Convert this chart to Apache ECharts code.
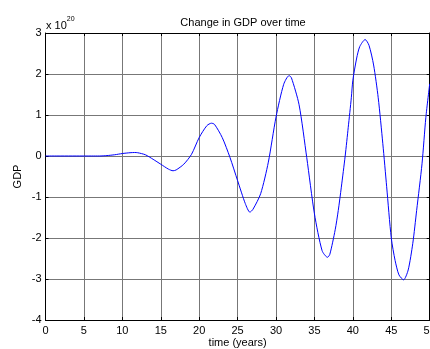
<!DOCTYPE html>
<html>
<head>
<meta charset="utf-8">
<script src="https://cdn.jsdelivr.net/npm/echarts@6/dist/echarts.min.js"></script>
<style>
html,body{margin:0;padding:0;background:#fff;}
#chart{width:430px;height:349px;}
</style>
</head>
<body>
<div id="chart"></div>
<script>
// time (years)
var timeYears = [0, 2, 4, 6, 7, 8, 9, 10, 11, 11.6, 12, 13, 14, 15, 16, 16.6, 17, 18, 19, 20, 21, 21.6, 22, 23, 24, 25, 26, 26.6, 27, 28, 29, 30, 31, 31.7, 32, 33, 34, 35, 36, 36.7, 37, 37.7, 38.1, 38.5, 39.0, 39.4, 39.8, 40.0, 40.5, 40.9, 41.6, 42.1, 42.7, 43.3, 43.9, 44.4, 45.0, 45.5, 46.0, 46.6, 47.2, 47.8, 48.3, 49.0, 49.5, 50];
// GDP change (x 10^20)
var gdpValues = [0, 0, 0, 0, 0, 0.01, 0.03, 0.06, 0.08, 0.085, 0.08, 0.03, -0.08, -0.2, -0.32, -0.36, -0.34, -0.2, 0.04, 0.45, 0.74, 0.80, 0.77, 0.45, -0.03, -0.6, -1.16, -1.37, -1.30, -0.92, -0.15, 0.95, 1.75, 1.96, 1.91, 1.25, -0.04, -1.41, -2.31, -2.47, -2.40, -1.8, -1.33, -0.76, 0, 0.7, 1.42, 1.85, 2.39, 2.67, 2.84, 2.7, 2.22, 1.42, 0.3, -0.75, -2.0, -2.55, -2.9, -3.02, -2.78, -2.13, -1.33, -0.19, 0.94, 1.76];
var xTicks = [0, 5, 10, 15, 20, 25, 30, 35, 40, 45, 50];
var yTicks = [-4, -3, -2, -1, 0, 1, 2, 3];

var chartTitle = 'Change in GDP over time';
var xName = 'time (years)';
var yName = 'GDP';

var seriesData = timeYears.map(function (t, i) { return [t, gdpValues[i]]; });
var FONT = '"Liberation Sans", Arial, sans-serif';

var chart = echarts.init(document.getElementById('chart'), null, {renderer: 'canvas'});
var axisLineStyle = {color: '#000', width: 1};
chart.setOption({
  animation: false,
  backgroundColor: '#fff',
  title: {
    text: chartTitle,
    left: 238, top: 12, textAlign: 'center',
    textStyle: {fontFamily: FONT, fontSize: 11, fontWeight: 'normal', color: '#000'}
  },
  grid: {left: 45.5, right: 0.3, top: 33, bottom: 29, outerBoundsMode: 'none', containLabel: false},
  xAxis: [{
    type: 'value', min: xTicks[0], max: xTicks[xTicks.length - 1], interval: 5,
    name: xName, nameLocation: 'middle', nameGap: 17, nameMoveOverlap: false,
    nameTextStyle: {fontFamily: FONT, fontSize: 11, color: '#000'},
    axisLine: {show: true, onZero: false, lineStyle: axisLineStyle},
    axisTick: {show: true, inside: true, length: 3, lineStyle: axisLineStyle},
    axisLabel: {fontFamily: FONT, fontSize: 11, color: '#000', margin: 5, showMaxLabel: true, showMinLabel: true},
    splitLine: {show: true, lineStyle: {color: '#777', width: 1}}
  }, {
    type: 'value', position: 'top', min: xTicks[0], max: xTicks[xTicks.length - 1], interval: 5,
    axisLine: {show: true, onZero: false, lineStyle: axisLineStyle},
    axisTick: {show: true, inside: true, length: 3, lineStyle: axisLineStyle},
    axisLabel: {show: false},
    splitLine: {show: false}
  }],
  yAxis: [{
    type: 'value', min: yTicks[0], max: yTicks[yTicks.length - 1], interval: 1,
    name: yName, nameLocation: 'middle', nameGap: 22, nameMoveOverlap: false,
    nameTextStyle: {fontFamily: FONT, fontSize: 11, color: '#000'},
    axisLine: {show: true, onZero: false, lineStyle: axisLineStyle},
    axisTick: {show: true, inside: true, length: 3, lineStyle: axisLineStyle},
    axisLabel: {fontFamily: FONT, fontSize: 11, color: '#000', margin: 4},
    splitLine: {show: true, lineStyle: {color: '#777', width: 1}}
  }, {
    type: 'value', position: 'right', min: yTicks[0], max: yTicks[yTicks.length - 1], interval: 1,
    axisLine: {show: true, onZero: false, lineStyle: axisLineStyle},
    axisTick: {show: true, inside: true, length: 3, lineStyle: axisLineStyle},
    axisLabel: {show: false},
    splitLine: {show: false}
  }],
  graphic: [{
    type: 'text', left: 46, top: 16,
    style: {
      text: '{b|x 10}{s|20}',
      rich: {
        b: {fontFamily: FONT, fontSize: 11, fill: '#000', verticalAlign: 'bottom'},
        s: {fontFamily: FONT, fontSize: 7, fill: '#000', verticalAlign: 'top', padding: [0, 0, 8, 0]}
      }
    }
  }],
  series: [{
    type: 'line', data: seriesData, xAxisIndex: 0, yAxisIndex: 0,
    showSymbol: false, smooth: 0.25,
    lineStyle: {color: '#0000ff', width: 1}
  }]
});
</script>
</body>
</html>
